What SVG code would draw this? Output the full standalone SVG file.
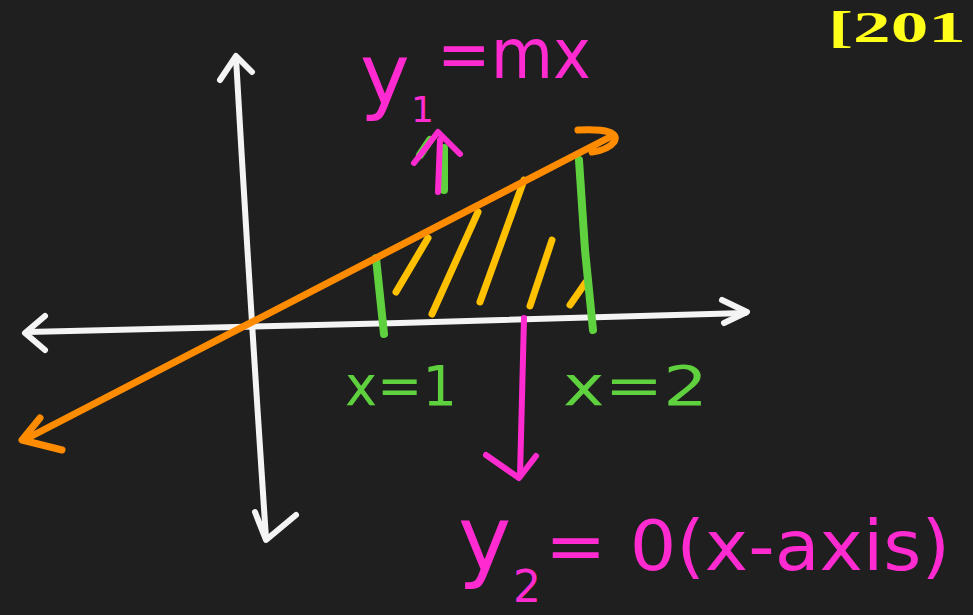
<svg xmlns="http://www.w3.org/2000/svg" width="973" height="615" viewBox="0 0 973 615">
<style>
.ax{stroke:#f4f4f4;stroke-width:6;fill:none;stroke-linecap:round;stroke-linejoin:round}
.or{stroke:#ff8c00;stroke-width:7;fill:none;stroke-linecap:round;stroke-linejoin:round}
.gr{stroke:#5fd13f;stroke-width:8;fill:none;stroke-linecap:round}
.ye{stroke:#ffc000;stroke-width:7;fill:none;stroke-linecap:round}
.mg{stroke:#ff2bd0;stroke-width:6;fill:none;stroke-linecap:round;stroke-linejoin:round}
.tm{fill:#ff2bd0;font-family:"DejaVu Sans",sans-serif}
.tg{fill:#5fd13f;font-family:"DejaVu Sans",sans-serif}
</style>
<rect width="973" height="615" fill="#1f1f1f"/>
<text x="828" y="42" fill="#ffff1a" font-family="Liberation Serif, serif" font-weight="bold" font-size="45" textLength="138" lengthAdjust="spacingAndGlyphs">[201</text>
<g id="axes">
<path class="ax" d="M236 58 Q250 300 266 538"/>
<path class="ax" d="M220 80 L236 56 L252 72"/>
<path class="ax" d="M255 512 L266 540 L296 515"/>
<path class="ax" d="M28 332 L400 323 L745 313"/>
<path class="ax" d="M45 316 L25 333 L45 350"/>
<path class="ax" d="M722 300 L747 312 L724 323"/>
</g>
<g id="hatch">
<path class="ye" d="M396 292 L428 238"/>
<path class="ye" d="M432 314 L478 212"/>
<path class="ye" d="M480 302 L524 180"/>
<path class="ye" d="M530 306 L552 240"/>
<path class="ye" d="M570 305 L586 282"/>
</g>
<g id="verticals">
<path class="gr" d="M376 258 L384 334"/>
<path class="gr" d="M579 160 L585 250 L593 330"/>
</g>
<g id="line">
<path class="or" d="M24 440 L610 137"/>
<path class="or" d="M578 130 Q622 128 614 142 Q608 150 592 152"/>
<path class="or" d="M40 418 L22 440 L62 450"/>
</g>
<g id="y1arrow">
<path class="gr" d="M420 155 L430 140" stroke-width="6"/>
<path class="gr" d="M444 148 L444 190" stroke-width="6"/>
<path class="mg" d="M438 192 L440 140"/>
<path class="mg" d="M414 163 L438 132 L460 154"/>
</g>
<g id="y2arrow">
<path class="mg" d="M524 318 L520 476"/>
<path class="mg" d="M486 455 L519 478 L536 456"/>
</g>
<g id="labels">
<text class="tm" x="360" y="104" font-size="84">y</text>
<text class="tm" x="411" y="122" font-size="36">1</text>
<text class="tm" x="437" y="78" font-size="70" textLength="154" lengthAdjust="spacingAndGlyphs">=mx</text>
<text class="tg" x="345" y="405" font-size="56" textLength="112" lengthAdjust="spacingAndGlyphs">x=1</text>
<text class="tg" x="563" y="405" font-size="56" textLength="145" lengthAdjust="spacingAndGlyphs">x=2</text>
<text class="tm" x="458" y="570" font-size="90">y</text>
<text class="tm" x="513" y="602" font-size="44">2</text>
<text class="tm" x="545" y="570" font-size="70" textLength="405" lengthAdjust="spacingAndGlyphs">= 0(x-axis)</text>
</g>
</svg>
